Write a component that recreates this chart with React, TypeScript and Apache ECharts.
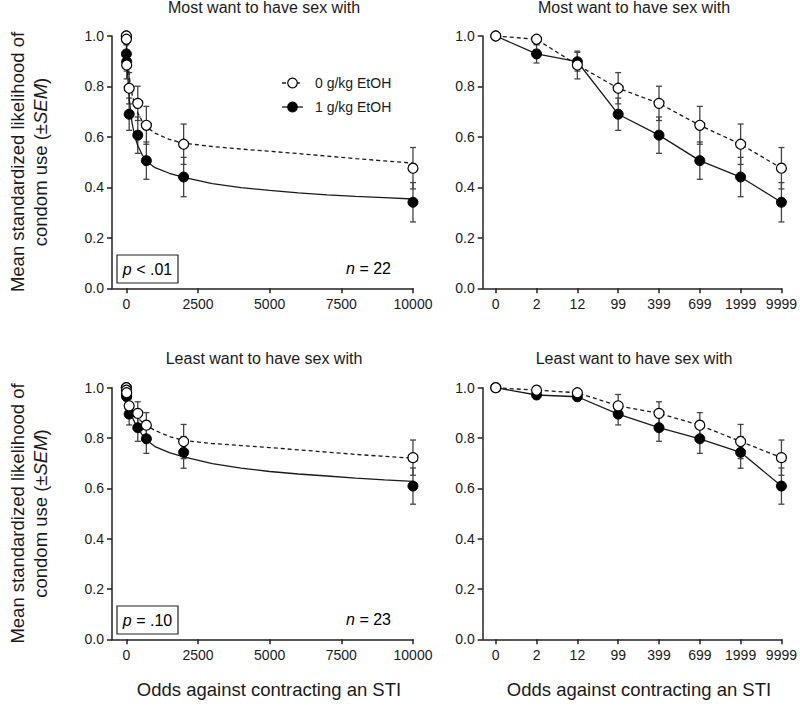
import React, { useEffect, useRef } from "react";
import * as echarts from "echarts";

// ---- Data ----
const odds = [0, 2, 12, 99, 399, 699, 1999, 9999];
const oddsLabels = ["0", "2", "12", "99", "399", "699", "1999", "9999"];
const leftTicks = [0, 2500, 5000, 7500, 10000];

const mostSober = [1.0, 0.987, 0.885, 0.793, 0.733, 0.646, 0.571, 0.476];
const mostSoberSem = [0, 0.012, 0.055, 0.062, 0.068, 0.075, 0.08, 0.082];
const mostAlcohol = [1.0, 0.929, 0.898, 0.69, 0.607, 0.506, 0.441, 0.341];
const mostAlcoholSem = [0, 0.036, 0.037, 0.064, 0.072, 0.074, 0.078, 0.078];
const leastSober = [1.0, 0.99, 0.98, 0.928, 0.898, 0.851, 0.786, 0.722];
const leastSoberSem = [0, 0.008, 0.01, 0.045, 0.046, 0.05, 0.068, 0.07];
const leastAlcohol = [1.0, 0.971, 0.964, 0.895, 0.841, 0.797, 0.743, 0.609];
const leastAlcoholSem = [0, 0.01, 0.015, 0.043, 0.054, 0.058, 0.063, 0.072];

// fitted curves (x = odds, y = likelihood)
const curveX = [0, 25, 50, 100, 150, 200, 300, 400, 550, 700, 1000, 1500, 2000, 3000, 4000, 5000, 6000, 7000, 8000, 9000, 10000];
const mostSoberCurve = [1.0, 0.94, 0.9, 0.84, 0.8, 0.77, 0.725, 0.695, 0.663, 0.64, 0.615, 0.59, 0.575, 0.562, 0.552, 0.543, 0.534, 0.524, 0.514, 0.505, 0.496];
const mostAlcoholCurve = [1.0, 0.9, 0.84, 0.755, 0.7, 0.655, 0.6, 0.565, 0.53, 0.505, 0.478, 0.456, 0.44, 0.415, 0.399, 0.388, 0.378, 0.37, 0.364, 0.359, 0.354];
const leastSoberCurve = [1.0, 0.98, 0.965, 0.945, 0.93, 0.915, 0.895, 0.88, 0.864, 0.85, 0.83, 0.806, 0.79, 0.778, 0.77, 0.762, 0.753, 0.744, 0.735, 0.727, 0.72];
const leastAlcoholCurve = [1.0, 0.97, 0.95, 0.92, 0.9, 0.885, 0.86, 0.84, 0.813, 0.792, 0.766, 0.742, 0.725, 0.698, 0.68, 0.667, 0.657, 0.649, 0.641, 0.634, 0.628];

const legendNames = ["0 g/kg EtOH", "1 g/kg EtOH"];
const panelTitles = ["Most want to have sex with", "Most want to have sex with", "Least want to have sex with", "Least want to have sex with"];
const xTitle = "Odds against contracting an STI";

const INK = "#1a1a1a";
const BAR = "#444";
const FONT = "Liberation Sans, Arial, sans-serif";

function errRender(params: any, api: any) {
  const x = api.value(0);
  const y = api.value(1);
  const e = api.value(2);
  if (!e) return null;
  const top = api.coord([x, y + e]);
  const bot = api.coord([x, y - e]);
  const hw = 3;
  const style = { stroke: BAR, lineWidth: 1.3 };
  return {
    type: "group",
    children: [
      { type: "line", shape: { x1: top[0], y1: top[1], x2: bot[0], y2: bot[1] }, style },
      { type: "line", shape: { x1: top[0] - hw, y1: top[1], x2: top[0] + hw, y2: top[1] }, style },
      { type: "line", shape: { x1: bot[0] - hw, y1: bot[1], x2: bot[0] + hw, y2: bot[1] }, style },
    ],
  };
}

function App() {
  const ref = useRef<HTMLDivElement>(null);
  useEffect(() => {
    if (!ref.current) return;
    const chart = echarts.init(ref.current, null, { renderer: "svg" });

    const grids = [
      { left: 112, top: 36, width: 301, height: 252.3 },
      { left: 482.7, top: 36, width: 302.3, height: 252.3 },
      { left: 112, top: 387.7, width: 301, height: 251.6 },
      { left: 482.7, top: 387.7, width: 302.3, height: 251.6 },
    ];

    const axisLine = { show: true, onZero: false, lineStyle: { color: "#222", width: 1.5 } };
    const axisTick = { show: true, length: 5, lineStyle: { color: "#222", width: 1.5 } };
    const labelBase = { color: INK, fontSize: 14, fontFamily: FONT };

    const xAxes = grids.map((g, i) => {
      const isLeft = i % 2 === 0;
      return isLeft
        ? {
            type: "value",
            gridIndex: i,
            min: -500,
            max: 10000,
            axisLine,
            axisTick: { ...axisTick, customValues: leftTicks },
            axisLabel: { ...labelBase, margin: 9, customValues: leftTicks, formatter: (v: number) => String(v) },
            splitLine: { show: false },
          }
        : {
            type: "value",
            gridIndex: i,
            min: -0.32,
            max: 7,
            axisLine,
            axisTick: { ...axisTick, customValues: oddsLabels.map((_, k) => k) },
            axisLabel: {
              ...labelBase,
              margin: 9,
              customValues: oddsLabels.map((_, k) => k),
              formatter: (v: number) => oddsLabels[Math.round(v)] ?? "",
            },
            splitLine: { show: false },
          };
    });

    const yAxes = grids.map((g, i) => ({
      type: "value",
      gridIndex: i,
      min: 0,
      max: 1,
      interval: 0.2,
      axisLine,
      axisTick,
      axisLabel: { ...labelBase, margin: 8, formatter: (v: number) => v.toFixed(1) },
      splitLine: { show: false },
    }));

    const panels = [
      { sober: mostSober, soberSem: mostSoberSem, alc: mostAlcohol, alcSem: mostAlcoholSem, soberCurve: mostSoberCurve, alcCurve: mostAlcoholCurve },
      { sober: mostSober, soberSem: mostSoberSem, alc: mostAlcohol, alcSem: mostAlcoholSem },
      { sober: leastSober, soberSem: leastSoberSem, alc: leastAlcohol, alcSem: leastAlcoholSem, soberCurve: leastSoberCurve, alcCurve: leastAlcoholCurve },
      { sober: leastSober, soberSem: leastSoberSem, alc: leastAlcohol, alcSem: leastAlcoholSem },
    ];

    const series: any[] = [];
    panels.forEach((p: any, i) => {
      const isLeft = i % 2 === 0;
      const xv = (k: number) => (isLeft ? odds[k] : k);
      const common = { xAxisIndex: i, yAxisIndex: i, silent: true };
      series.push({
        ...common,
        type: "custom",
        name: legendNames[0] + " SEM",
        renderItem: errRender,
        data: p.sober.map((y: number, k: number) => [xv(k), y, p.soberSem[k]]),
        z: 1,
      });
      series.push({
        ...common,
        type: "custom",
        name: legendNames[1] + " SEM",
        renderItem: errRender,
        data: p.alc.map((y: number, k: number) => [xv(k), y, p.alcSem[k]]),
        z: 1,
      });
      if (isLeft) {
        series.push({
          ...common,
          type: "line",
          name: legendNames[0] + " fit",
          data: curveX.map((x, k) => [x, p.soberCurve[k]]),
          showSymbol: false,
          smooth: false,
          lineStyle: { color: INK, width: 1.3, type: [4, 3] },
          z: 2,
        });
        series.push({
          ...common,
          type: "line",
          name: legendNames[1] + " fit",
          data: curveX.map((x, k) => [x, p.alcCurve[k]]),
          showSymbol: false,
          smooth: false,
          lineStyle: { color: INK, width: 1.3 },
          z: 2,
        });
      } else {
        series.push({
          ...common,
          type: "line",
          name: legendNames[0] + " line",
          data: p.sober.map((y: number, k: number) => [k, y]),
          showSymbol: false,
          lineStyle: { color: INK, width: 1.3, type: [4, 3] },
          z: 2,
        });
        series.push({
          ...common,
          type: "line",
          name: legendNames[1] + " line",
          data: p.alc.map((y: number, k: number) => [k, y]),
          showSymbol: false,
          lineStyle: { color: INK, width: 1.3 },
          z: 2,
        });
      }
      series.push({
        ...common,
        type: "scatter",
        name: legendNames[1],
        data: p.alc.map((y: number, k: number) => [xv(k), y]),
        symbol: "circle",
        symbolSize: 10,
        itemStyle: { color: "#000", borderColor: "#000", borderWidth: 1, opacity: 1 },
        z: 3,
      });
      series.push({
        ...common,
        type: "scatter",
        name: legendNames[0],
        data: p.sober.map((y: number, k: number) => [xv(k), y]),
        symbol: "circle",
        symbolSize: 10,
        itemStyle: { color: "#fff", borderColor: "#000", borderWidth: 1.2, opacity: 1 },
        z: 4,
      });
    });

    const titleCenters = [
      { x: 264, y: -1 },
      { x: 634, y: -1 },
      { x: 264, y: 350 },
      { x: 634, y: 350 },
    ];

    const rich = {
      a: { fontSize: 18.5, fontFamily: FONT, color: INK },
      i: { fontSize: 18.5, fontFamily: FONT, color: INK, fontStyle: "italic" },
    };
    const richSmall = {
      a: { fontSize: 16, fontFamily: FONT, color: INK },
      i: { fontSize: 16, fontFamily: FONT, color: INK, fontStyle: "italic" },
    };

    const graphic: any[] = [];
    [162, 513.5].forEach((cy) => {
      graphic.push({
        type: "text",
        x: 28.5,
        y: cy,
        rotation: Math.PI / 2,
        style: {
          text: "{a|Mean standardized likelihood of}\n{a|condom use (±}{i|SEM}{a|)}",
          rich,
          lineHeight: 23,
          align: "center",
          verticalAlign: "middle",
          fill: INK,
        },
      });
    });
    [269, 639].forEach((cx) => {
      graphic.push({
        type: "text",
        x: cx,
        y: 689,
        style: { text: xTitle, font: `18.5px ${FONT}`, fill: INK, align: "center", verticalAlign: "middle" },
      });
    });
    const legendRows = [
      { y: 83, dash: [4, 3], fill: "#fff", name: legendNames[0] },
      { y: 107, dash: null, fill: "#000", name: legendNames[1] },
    ];
    legendRows.forEach((r) => {
      graphic.push({
        type: "line",
        shape: { x1: 282, y1: r.y, x2: 303, y2: r.y },
        style: { stroke: INK, lineWidth: 1.3, lineDash: r.dash || undefined },
      });
      graphic.push({
        type: "circle",
        shape: { cx: 292.5, cy: r.y, r: 4.8 },
        style: { fill: r.fill, stroke: "#000", lineWidth: 1.2 },
      });
      graphic.push({
        type: "text",
        x: 315,
        y: r.y,
        style: { text: r.name, font: `14px ${FONT}`, fill: INK, verticalAlign: "middle" },
      });
    });
    const stats = [
      { top: 255, p: "{i|p}{a| < .01}", n: "{i|n}{a| = 22}" },
      { top: 606, p: "{i|p}{a| = .10}", n: "{i|n}{a| = 23}" },
    ];
    stats.forEach((s) => {
      graphic.push({
        type: "rect",
        shape: { x: 117, y: s.top, width: 61, height: 28 },
        style: { fill: "#fff", stroke: "#222", lineWidth: 1.2 },
        z: 10,
      });
      graphic.push({
        type: "text",
        x: 147.5,
        y: s.top + 14,
        z: 11,
        style: { text: s.p, rich: richSmall, align: "center", verticalAlign: "middle" },
      });
      graphic.push({
        type: "text",
        x: 391,
        y: s.top + 13,
        z: 11,
        style: { text: s.n, rich: richSmall, align: "right", verticalAlign: "middle" },
      });
    });

    chart.setOption({
      animation: false,
      backgroundColor: "#fff",
      title: panelTitles.map((t, i) => ({
        text: t,
        left: titleCenters[i].x,
        top: titleCenters[i].y,
        textAlign: "center",
        padding: 0,
        textStyle: { fontSize: 16, fontWeight: "normal", color: INK, fontFamily: FONT },
      })),
      grid: grids,
      xAxis: xAxes,
      yAxis: yAxes,
      series,
      graphic,
    });
    return () => chart.dispose();
  }, []);

  return (
    <div
      ref={ref}
      style={{ position: "fixed", left: 0, top: 0, width: 800, height: 715, background: "#fff" }}
    />
  );
}

export default App;
